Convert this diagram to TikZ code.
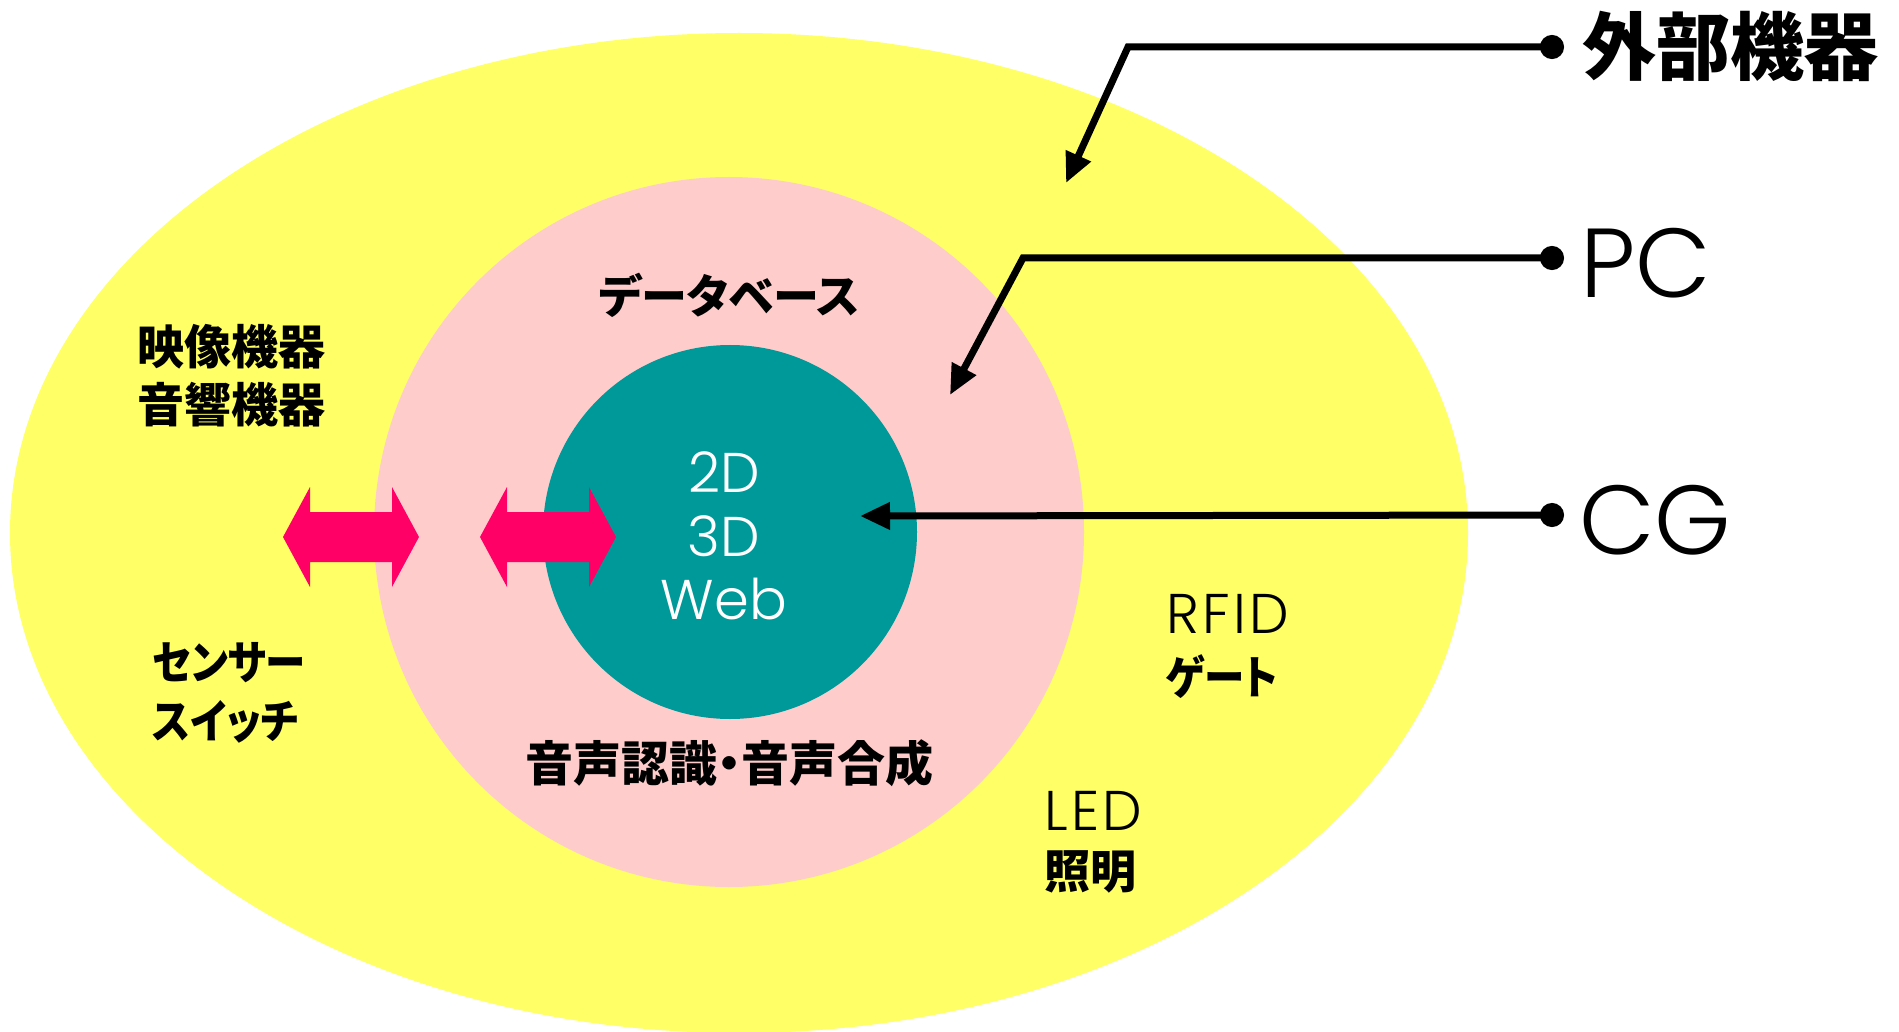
\documentclass[tikz,border=0pt]{standalone}
\usepackage{fontspec}
\usepackage{graphicx}
\setmainfont{Noto Sans CJK JP}
\newfontfamily\jp{Noto Sans CJK JP}[RawFeature=+palt]
\newfontfamily\lat{Poppins Light}
\newfontfamily\latsp{Poppins Light}[LetterSpace=6]
\usetikzlibrary{shapes.geometric,arrows.meta}
\definecolor{outerY}{HTML}{FFFF66}
\definecolor{midP}{HTML}{FFCCCC}
\definecolor{coreT}{HTML}{009999}
\definecolor{arrM}{HTML}{FF0066}
\newcommand\narrowjp[1]{\scalebox{0.88}[1]{#1}}
\tikzset{
  lay/.style={draw=none,inner sep=0pt,outer sep=0pt},
  jlab/.style={inner sep=0pt,font=\jp\bfseries\fontsize{46}{58}\selectfont,align=left},
  jlabc/.style={inner sep=0pt,font=\jp\bfseries\fontsize{46}{58}\selectfont,align=center},
  bigl/.style={inner sep=0pt,anchor=west,font=\lat\mdseries\fontsize{98}{100}\selectfont},
  conn/.style={line width=7pt,{Circle[length=24pt]}-{Triangle[length=30pt,width=26pt]}},
  dblarr/.pic={\fill[arrM] (-68,0) -- (-41,-50) -- (-41,-25) -- (41,-25) -- (41,-50) -- (68,0) -- (41,50) -- (41,25) -- (-41,25) -- (-41,50) -- cycle;}
}
\begin{document}
\begin{tikzpicture}[x=1pt,y=-1pt]
\useasboundingbox (0,0) rectangle (1899,1032);
\node[lay,ellipse,fill=outerY,minimum width=1458pt,minimum height=1000pt] (outer) at (739,533) {};
\node[lay,circle,fill=midP,minimum size=710pt] (mid) at (729,532) {};
\node[lay,circle,fill=coreT,minimum size=374pt] (core) at (730,532) {};
\pic at (351,537) {dblarr};
\pic at (548,537) {dblarr};
% texts
\node[inner sep=0pt,align=center,text=white,font=\lat\mdseries\fontsize{56}{63.5}\selectfont] (cg3) at (724,536) {2D\\3D\\Web};
\node[jlabc] (db) at (729,295) {データベース};
\node[jlabc,font=\jp\bfseries\fontsize{48}{58}\selectfont] (voice) at (729,763) {音声認識・音声合成};
\node[jlab,anchor=west,font=\jp\bfseries\fontsize{47}{58}\selectfont] (av) at (137,376) {映像機器\\音響機器};
\node[jlab,anchor=west,font=\jp\bfseries\fontsize{46}{59}\selectfont] (sens) at (152,693) {\narrowjp{センサー}\\\narrowjp{スイッチ}};
\node[jlab,anchor=west,font=\jp\bfseries\fontsize{46}{61}\selectfont] (rfid) at (1166,646) {{\latsp\mdseries\fontsize{56}{61}\selectfont RFID}\\\narrowjp{ゲート}};
\node[jlab,anchor=west] (led) at (1044,842) {{\latsp\mdseries\fontsize{56}{61}\selectfont LED}\\照明};
% right labels
\node[inner sep=0pt,anchor=west,font=\jp\bfseries\fontsize{74}{80}\selectfont] (ext) at (1582,46) {外部機器};
\node[bigl] (pc) at (1580,263) {PC};
\node[bigl] (cgl) at (1579,520) {CG};
\coordinate (d1) at (1564,47);
\coordinate (c1) at (1128,47);
\coordinate (t1) at (1066,183);
\coordinate (d2) at (1564,258);
\coordinate (c2) at (1023,258);
\coordinate (t2) at (950,395);
\coordinate (d3) at (1564,515);
\coordinate (t3) at (860,516);
\draw[conn] (d1) -- (c1) -- (t1);
\draw[conn] (d2) -- (c2) -- (t2);
\draw[conn] (d3) -- (t3);
\end{tikzpicture}
\end{document}
